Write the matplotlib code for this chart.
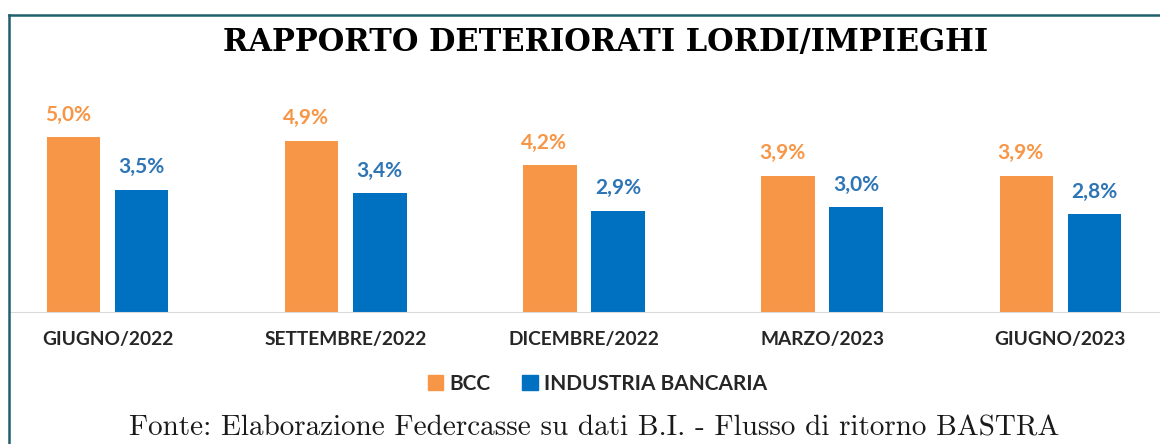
import matplotlib.pyplot as plt
from matplotlib.patches import Patch
from matplotlib.lines import Line2D
import numpy as np

periodi = ['GIUGNO/2022', 'SETTEMBRE/2022', 'DICEMBRE/2022', 'MARZO/2023', 'GIUGNO/2023']
bcc = [5.0, 4.9, 4.2, 3.9, 3.9]
industria = [3.5, 3.4, 2.9, 3.0, 2.8]

arancio = '#F79646'
blu = '#0070C0'
arancio_txt = '#F79646'
blu_txt = '#2E75B6'

fig = plt.figure(figsize=(11.6, 4.44), dpi=100)
ax = fig.add_axes([0, 131/444, 1, 253/444])

x = np.arange(len(periodi))
w = 0.225
off = 0.143
b1 = ax.bar(x - off, bcc, w, color=arancio)
b2 = ax.bar(x + off, industria, w, color=blu)

for rect, v in zip(b1, bcc):
    ax.annotate(f'{v:.1f}%'.replace('.', ','), (rect.get_x() + rect.get_width()/2, v),
                xytext=(-4, 9), textcoords='offset points', ha='center', va='bottom',
                fontsize=15, fontweight='bold', color=arancio_txt, family='Lato')
for rect, v in zip(b2, industria):
    ax.annotate(f'{v:.1f}%'.replace('.', ','), (rect.get_x() + rect.get_width()/2, v),
                xytext=(0, 9), textcoords='offset points', ha='center', va='bottom',
                fontsize=15, fontweight='bold', color=blu_txt, family='Lato')

ax.set_xlim(-0.451, 4.418)
ax.set_ylim(0, 7.19)
for s in ax.spines.values():
    s.set_visible(False)
ax.set_yticks([])
ax.set_xticks(x)
ax.set_xticklabels(periodi, fontsize=13.8, fontweight='bold', color='#262626', family='Lato')
ax.tick_params(axis='x', length=0, pad=13)
ax.axhline(0, xmin=0.009, xmax=1, color='#D9D9D9', lw=1.5)

fig.text(0.522, 1 - 42/444, 'RAPPORTO DETERIORATI LORDI/IMPIEGHI', ha='center', va='center',
         fontsize=22, fontweight='bold', family='DejaVu Serif', color='black')

handles = [Patch(color=arancio, label='BCC'), Patch(color=blu, label='INDUSTRIA BANCARIA')]
leg = fig.legend(handles=handles, loc='center', bbox_to_anchor=(0.515, 1 - 384/444), ncol=2,
                 frameon=False, handlelength=0.75, handleheight=0.75, handletextpad=0.3,
                 columnspacing=1.5, prop={'family': 'Lato', 'weight': 'bold', 'size': 15})
for t in leg.get_texts():
    t.set_color('#262626')

fig.text(0.512, 1 - 428/444, 'Fonte: Elaborazione Federcasse su dati B.I. - Flusso di ritorno BASTRA',
         ha='center', va='center', fontsize=21, family='cmr10', color='#1A1A1A')

# cornice
fig.add_artist(Line2D([9/1160, 9/1160], [0, 1 - 15/444], color='#1F5F6E', lw=1.8))
fig.add_artist(Line2D([9/1160, 1], [1 - 15/444, 1 - 15/444], color='#1F5F6E', lw=1.8))

fig.savefig('out.png', dpi=100)
